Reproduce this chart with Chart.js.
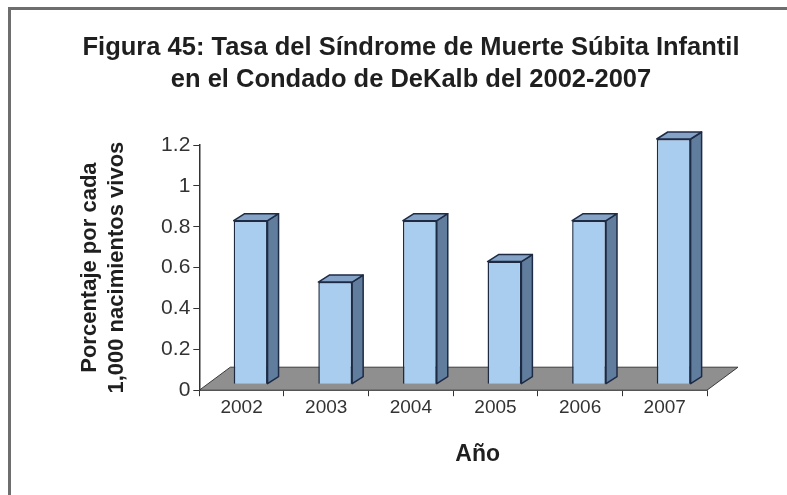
<!DOCTYPE html>
<html>
<head>
<meta charset="utf-8">
<script src="https://cdn.jsdelivr.net/npm/chart.js@4.4.0/dist/chart.umd.min.js"></script>
<style>
  body { margin: 0; background: #fff; }
  .wrap { position: relative; width: 787px; height: 495px; }
  .frame { position: absolute; left: 8px; top: 7px; right: 0; bottom: 0;
           border-top: 3px solid #6e6e6e; border-left: 3px solid #6e6e6e; }
  canvas { position: absolute; left: 0; top: 0; }
</style>
</head>
<body>
<div class="wrap">
  <canvas id="chart" width="787" height="495"></canvas>
  <div class="frame"></div>
</div>
<script>
const years = ['2002', '2003', '2004', '2005', '2006', '2007'];
const rates = [0.8, 0.5, 0.8, 0.6, 0.8, 1.2];
const yTickLabels = ['0', '0.2', '0.4', '0.6', '0.8', '1', '1.2'];
const titleLines = ['Figura 45: Tasa del Síndrome de Muerte Súbita Infantil', 'en el Condado de DeKalb del 2002-2007'];
const yTitleLines = ['Porcentaje por cada', '1,000 nacimientos vivos'];
const xTitle = 'Año';

const FONT = "'Liberation Sans', Arial, sans-serif";
// depth of the 3d look
const floorDX = 31, floorDY = 23;
const barDX = 9, barDY = 6;
const sideDX = 11, sideDY = 7;

const threeD = {
    id: 'threeD',
    beforeDatasetsDraw(chart) {
        const { ctx, scales: { x, y } } = chart;
        const y0 = y.getPixelForValue(0);
        ctx.save();
        ctx.beginPath();
        ctx.moveTo(x.left, y0);
        ctx.lineTo(x.right, y0);
        ctx.lineTo(x.right + floorDX, y0 - floorDY);
        ctx.lineTo(x.left + floorDX, y0 - floorDY);
        ctx.closePath();
        ctx.fillStyle = '#8f8f8f';
        ctx.fill();
        ctx.strokeStyle = '#3a3a3a';
        ctx.lineWidth = 1;
        ctx.stroke();
        ctx.translate(barDX, -barDY);
    },
    afterDatasetsDraw(chart) {
        const { ctx } = chart;
        const meta = chart.getDatasetMeta(0);
        meta.data.forEach(bar => {
            const l = bar.x - bar.width / 2, r = bar.x + bar.width / 2;
            const t = bar.y, b = bar.base;
            ctx.lineJoin = 'round';
            ctx.lineWidth = 1.5;
            ctx.strokeStyle = '#1d2b45';
            // side face
            ctx.beginPath();
            ctx.moveTo(r, t);
            ctx.lineTo(r + sideDX, t - sideDY);
            ctx.lineTo(r + sideDX, b - sideDY);
            ctx.lineTo(r, b);
            ctx.closePath();
            ctx.fillStyle = '#617d9d';
            ctx.fill();
            ctx.stroke();
            // top face
            ctx.beginPath();
            ctx.moveTo(l, t);
            ctx.lineTo(l + sideDX, t - sideDY);
            ctx.lineTo(r + sideDX, t - sideDY);
            ctx.lineTo(r, t);
            ctx.closePath();
            ctx.fillStyle = '#84a3c6';
            ctx.fill();
            ctx.stroke();
        });
        ctx.restore();
    },
    afterDraw(chart) {
        const { ctx, scales: { x } } = chart;
        ctx.save();
        ctx.fillStyle = '#1f1f1f';
        ctx.textAlign = 'center';
        ctx.textBaseline = 'middle';
        // title is off-centre in the original, so it is placed by hand
        ctx.font = 'bold 25.5px ' + FONT;
        titleLines.forEach((line, i) => ctx.fillText(line, 411, 48 + i * 32));
        ctx.font = 'bold 23px ' + FONT;
        ctx.fillText(xTitle, (x.left + x.right + floorDX) / 2 + 9, 455);
        ctx.restore();
    }
};

new Chart(document.getElementById('chart'), {
    type: 'bar',
    data: {
        labels: years,
        datasets: [{
            data: rates,
            backgroundColor: '#a8cdef',
            borderColor: '#1d2b45',
            borderWidth: 1.5,
            categoryPercentage: 0.8,
            barPercentage: 0.5
        }]
    },
    options: {
        responsive: false,
        animation: false,
        layout: { padding: { left: 76, right: 80, top: 145, bottom: 76 } },
        plugins: {
            legend: { display: false },
            tooltip: { enabled: false },
            title: { display: false }
        },
        scales: {
            x: {
                border: { color: '#333', width: 1.5 },
                grid: { display: true, drawOnChartArea: false, tickLength: 6, color: '#333', offset: true },
                ticks: { color: '#333', font: { family: FONT, size: 19 }, padding: 0 }
            },
            y: {
                min: 0,
                max: 1.2,
                border: { color: '#333', width: 1.5 },
                grid: { display: true, drawOnChartArea: false, tickLength: 6, color: '#333' },
                ticks: {
                    stepSize: 0.2,
                    color: '#333',
                    font: { family: FONT, size: 21 },
                    padding: 3,
                    callback: (v, i) => yTickLabels[i]
                },
                title: {
                    display: true,
                    text: yTitleLines,
                    color: '#1f1f1f',
                    font: { family: FONT, size: 22, weight: 'bold', lineHeight: 1.23 },
                    padding: { top: 0, bottom: 28 }
                }
            }
        }
    },
    plugins: [threeD]
});
</script>
</body>
</html>
